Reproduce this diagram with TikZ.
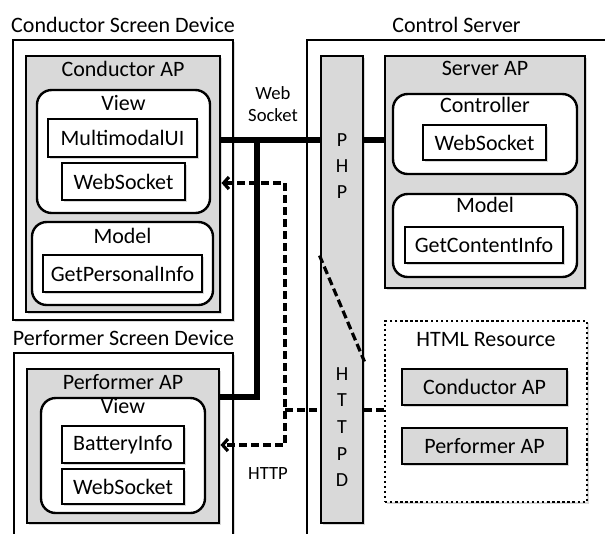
\documentclass[tikz,border=0pt]{standalone}
\usepackage{fontspec}
\setmainfont{Carlito}
\usetikzlibrary{shapes,arrows.meta,fit,calc,positioning,shadows}

\begin{document}
\begin{tikzpicture}[x=0.75pt,y=-0.75pt,
    font=\fontsize{16.5}{19}\selectfont,
    shade/.style={drop shadow={shadow xshift=1.3pt,shadow yshift=-1.3pt,opacity=0.3}},
    device/.style={draw,fill=white,line width=1.8pt,inner sep=0pt,shade},
    apbox/.style={draw,fill=black!15,line width=2.2pt,inner sep=0pt,shade},
    layer/.style={draw,fill=white,line width=1.8pt,rounded corners=11pt,inner sep=0pt},
    part/.style={draw,fill=white,line width=2.2pt,inner sep=0pt,shade},
    boxtitle/.style={anchor=north,inner sep=5pt},
    boxtext/.style={label={center:#1}},
    small/.style={font=\fontsize{14}{16}\selectfont},
    wsline/.style={line width=4pt},
    http/.style={line width=2.4pt,dash pattern=on 6pt off 3pt},
    >={Straight Barb[length=4pt,width=9pt]}
  ]
  \clip (0,0) rectangle (605,533);

  % conductor side
  \node[device,fit={(13,40) (233,320)},label={[label distance=1pt]above:Conductor Screen Device}] (csd) {};
  \node[apbox,fit={(26,56) (220,312)},label={[boxtitle]north:Conductor AP}] (cap) {};
  \node[layer,fit={(37,90) (210,213)},label={[boxtitle]north:View}] (cview) {};
  \node[part,fit={(48,119) (197,157)},boxtext=MultimodalUI] (mui) {};
  \node[part,fit={(62,163) (185,200)},boxtext=WebSocket] (cws) {};
  \node[layer,fit={(32,222) (213,305)},label={[boxtitle]north:Model}] (cmodel) {};
  \node[part,fit={(43,255) (202,292)},boxtext=GetPersonalInfo] (gpi) {};

  % performer side
  \node[device,fit={(14,353) (233,545)},label={[label distance=1pt]above:Performer Screen Device}] (psd) {};
  \node[apbox,fit={(27,369) (219,523)},label={[boxtitle]north:Performer AP}] (pap) {};
  \node[layer,fit={(41,398) (205,513)},label={[boxtitle,inner sep=1pt]north:View}] (pview) {};
  \node[part,fit={(62,426) (184,463)},boxtext=BatteryInfo] (bat) {};
  \node[part,fit={(62,469) (184,504)},boxtext=WebSocket] (pws) {};

  % server side
  \node[device,fit={(307,40) (606,545)},label={[label distance=1pt]above:Control Server}] (cs) {};
  \node[apbox,fit={(321,56) (363,523)}] (bar) {};
  \node[font=\fontsize{15}{19.5}\selectfont,align=center] (php) at (342,166) {P\\H\\P};
  \node[font=\fontsize{15}{20}\selectfont,align=center] (httpd) at (342,427) {H\\T\\T\\P\\D};
  \node[apbox,fit={(385,56) (585,288)},label={[boxtitle]north:Server AP}] (sap) {};
  \node[layer,fit={(393,94) (577,174)},label={[boxtitle,inner sep=3pt]north:Controller}] (ctrl) {};
  \node[part,fit={(423,125) (546,160)},boxtext=WebSocket] (sws) {};
  \node[layer,fit={(393,194) (577,277)},label={[boxtitle,inner sep=3pt]north:Model}] (smodel) {};
  \node[part,fit={(405,227) (563,263)},boxtext=GetContentInfo] (gci) {};
  \node[draw,fill=white,line width=1.8pt,dotted,inner sep=0pt,shade,fit={(385,321) (587,502)},
        label={[boxtitle,inner sep=9pt]north:HTML Resource}] (html) {};
  \node[apbox,fit={(402,369) (567,405)},boxtext=Conductor AP] (hcap) {};
  \node[apbox,fit={(402,428) (567,464)},boxtext=Performer AP] (hpap) {};

  % connectors
  \node[small,align=center] (wslabel) at (273,104) {Web\\Socket};
  \node[small] (httplabel) at (268,473) {HTTP};
  \coordinate (wsj) at (257,140);
  \coordinate (pj) at (257,397);
  \draw[wsline] (wsj -| cap.east) -- (wsj -| bar.west);
  \draw[wsline] (wsj -| bar.east) -- (wsj -| sap.west);
  \draw[wsline] (wsj) -- (pj) -- (pj -| pap.east);

  \coordinate (ht) at (285,183);
  \coordinate (hj) at (285,410);
  \coordinate (hb) at (285,445);
  \draw[http,<->] (ht -| cap.east) -- (ht) -- (hb) -- (hb -| pap.east);
  \draw[http] (hj) -- (hj -| bar.west);
  \draw[http] (hj -| bar.east) -- (hj -| html.west);
  \draw[http] ($(bar.north west)+(0,201)$) -- ($(bar.north east)+(0,307)$);
\end{tikzpicture}
\end{document}
